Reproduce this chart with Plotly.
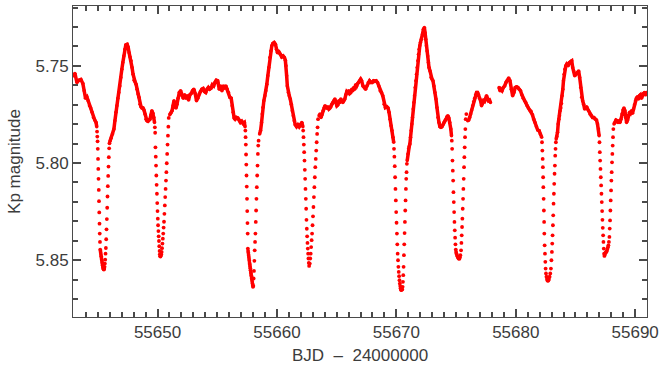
import plotly.graph_objects as go

# out-of-eclipse light curve (BJD - 2400000, Kp mag)
oot_bjd = [
    55642.971, 55643.082, 55643.247, 55643.414, 55643.580, 55643.746, 55643.856, 55643.967, 55644.077, 55644.188,
    55644.299, 55644.409, 55644.520, 55644.631, 55644.741, 55644.852, 55644.907,
    55646.014, 55646.124, 55646.235, 55646.346, 55646.429, 55646.512, 55646.595, 55646.678, 55646.761, 55646.844,
    55646.927, 55647.010, 55647.093, 55647.176, 55647.259, 55647.342, 55647.452, 55647.535, 55647.618, 55647.701,
    55647.784, 55647.867, 55647.950, 55648.033, 55648.116, 55648.199, 55648.282, 55648.365, 55648.448, 55648.531,
    55648.614, 55648.697, 55648.780, 55648.863, 55648.946, 55649.029, 55649.112, 55649.195, 55649.278, 55649.361,
    55649.444, 55649.527, 55649.610, 55649.693, 55649.748,
    55651.021, 55651.104, 55651.215, 55651.298, 55651.380, 55651.463, 55651.546, 55651.629, 55651.712, 55651.823,
    55651.934, 55652.044, 55652.155, 55652.266, 55652.376, 55652.487, 55652.598, 55652.708, 55652.819, 55652.930,
    55653.040, 55653.151, 55653.262, 55653.372, 55653.483, 55653.594, 55653.704, 55653.815, 55653.926, 55654.036,
    55654.147, 55654.257, 55654.368, 55654.479, 55654.589, 55654.700, 55654.811, 55654.921, 55655.032, 55655.059,
    55655.170, 55655.281, 55655.391, 55655.502, 55655.613, 55655.723, 55655.834, 55655.944, 55656.055, 55656.166,
    55656.249, 55656.332, 55656.415, 55656.498, 55656.608, 55656.719, 55656.830, 55656.940, 55657.051, 55657.162,
    55657.272, 55657.328,
    55658.545, 55658.628, 55658.711, 55658.766, 55658.821, 55658.904, 55658.987, 55659.070, 55659.153, 55659.236,
    55659.319, 55659.402, 55659.485, 55659.568, 55659.651, 55659.762, 55659.873, 55659.956, 55660.039, 55660.122,
    55660.205, 55660.288, 55660.398, 55660.509, 55660.620, 55660.703, 55660.758, 55660.813, 55660.868, 55660.951,
    55661.034, 55661.117, 55661.200, 55661.283, 55661.366, 55661.449, 55661.532, 55661.643, 55661.754, 55661.864,
    55661.975, 55662.086, 55662.169,
    55663.524, 55663.607, 55663.690, 55663.773, 55663.856, 55663.939, 55664.022, 55664.105, 55664.188, 55664.271,
    55664.354, 55664.437, 55664.520, 55664.603, 55664.686, 55664.769, 55664.852, 55664.935, 55665.018, 55665.101,
    55665.184, 55665.267, 55665.350, 55665.433, 55665.516, 55665.599, 55665.682, 55665.765, 55665.848, 55665.931,
    55666.014, 55666.097, 55666.180, 55666.263, 55666.346, 55666.429, 55666.512, 55666.595, 55666.678, 55666.761,
    55666.844, 55666.927, 55667.010, 55667.092, 55667.203, 55667.314, 55667.424, 55667.535, 55667.646, 55667.756,
    55667.867, 55667.978, 55668.088, 55668.199, 55668.309, 55668.420, 55668.531, 55668.641, 55668.752, 55668.863,
    55668.973, 55669.084, 55669.195, 55669.305, 55669.388, 55669.471, 55669.554, 55669.637, 55669.720, 55669.776,
    55670.910, 55670.965, 55671.020, 55671.076, 55671.131, 55671.186, 55671.242, 55671.297, 55671.352, 55671.408,
    55671.463, 55671.518, 55671.574, 55671.629, 55671.684, 55671.740, 55671.795, 55671.850, 55671.906, 55671.961,
    55672.016, 55672.099, 55672.182, 55672.265, 55672.348, 55672.404, 55672.459, 55672.514, 55672.570, 55672.625,
    55672.680, 55672.736, 55672.819, 55672.902, 55672.984, 55673.067, 55673.150, 55673.233, 55673.316, 55673.399,
    55673.482, 55673.565, 55673.648, 55673.731, 55673.814, 55673.897, 55673.980, 55674.063, 55674.146, 55674.229,
    55674.312, 55674.395, 55674.478, 55674.561, 55674.616,
    55675.972, 55676.055, 55676.138, 55676.221, 55676.304, 55676.387, 55676.470, 55676.553, 55676.636, 55676.719,
    55676.802, 55676.885, 55676.968, 55677.051, 55677.134, 55677.217, 55677.300, 55677.383, 55677.466, 55677.549,
    55677.632, 55677.715, 55677.798, 55677.881,
    55678.600, 55678.683, 55678.739, 55678.850, 55678.960, 55679.071, 55679.182, 55679.292, 55679.403, 55679.514,
    55679.624, 55679.735, 55679.846, 55679.956, 55680.067, 55680.177, 55680.288, 55680.399, 55680.509, 55680.620,
    55680.731, 55680.841, 55680.952, 55681.063, 55681.173, 55681.284, 55681.395, 55681.505, 55681.616, 55681.727,
    55681.837, 55681.948, 55682.058, 55682.169,
    55683.386, 55683.442, 55683.497, 55683.552, 55683.608, 55683.663, 55683.718, 55683.774, 55683.829, 55683.884,
    55683.940, 55683.995, 55684.050, 55684.106, 55684.189, 55684.272, 55684.382, 55684.493, 55684.604, 55684.687,
    55684.770, 55684.853, 55684.936, 55685.046, 55685.157, 55685.268, 55685.351, 55685.434, 55685.517, 55685.600,
    55685.683, 55685.766, 55685.849, 55685.931, 55686.014, 55686.097, 55686.208, 55686.319, 55686.429, 55686.540,
    55686.651, 55686.761, 55686.844, 55686.927, 55686.983,
    55688.227, 55688.310, 55688.393, 55688.476, 55688.559, 55688.642, 55688.725, 55688.808, 55688.891, 55688.974,
    55689.057, 55689.140, 55689.196, 55689.279, 55689.362, 55689.445, 55689.528, 55689.610, 55689.693, 55689.776,
    55689.859, 55689.942, 55690.025, 55690.108, 55690.191, 55690.274, 55690.357, 55690.440, 55690.523, 55690.606,
    55690.689, 55690.772, 55690.855, 55690.938,
]
oot_kp = [
    5.7551, 5.7539, 5.7585, 5.7574, 5.7570, 5.7591, 5.7628, 5.7666, 5.7659, 5.7679,
    5.7705, 5.7717, 5.7739, 5.7765, 5.7779, 5.7791, 5.7813,
    5.7888, 5.7871, 5.7850, 5.7825, 5.7782, 5.7739, 5.7705, 5.7666, 5.7637, 5.7603,
    5.7560, 5.7517, 5.7483, 5.7449, 5.7415, 5.7392, 5.7389, 5.7403, 5.7432, 5.7454,
    5.7474, 5.7509, 5.7543, 5.7574, 5.7582, 5.7594, 5.7620, 5.7645, 5.7662, 5.7697,
    5.7710, 5.7717, 5.7717, 5.7727, 5.7748, 5.7774, 5.7782, 5.7785, 5.7779, 5.7775,
    5.7753, 5.7731, 5.7744, 5.7765, 5.7791,
    5.7751, 5.7744, 5.7731, 5.7705, 5.7679, 5.7710, 5.7717, 5.7697, 5.7666, 5.7637,
    5.7628, 5.7654, 5.7666, 5.7649, 5.7666, 5.7654, 5.7676, 5.7649, 5.7642, 5.7628,
    5.7620, 5.7642, 5.7679, 5.7666, 5.7645, 5.7632, 5.7620, 5.7616, 5.7632, 5.7637,
    5.7620, 5.7611, 5.7620, 5.7615, 5.7597, 5.7603, 5.7585, 5.7574, 5.7577, 5.7585,
    5.7620, 5.7603, 5.7628, 5.7603, 5.7611, 5.7603, 5.7620, 5.7637, 5.7662, 5.7666,
    5.7705, 5.7739, 5.7768, 5.7774, 5.7765, 5.7768, 5.7779, 5.7791, 5.7785, 5.7796,
    5.7791, 5.7813,
    5.7850, 5.7833, 5.7791, 5.7748, 5.7714, 5.7679, 5.7654, 5.7628, 5.7594, 5.7551,
    5.7509, 5.7457, 5.7423, 5.7397, 5.7385, 5.7380, 5.7389, 5.7415, 5.7432, 5.7423,
    5.7432, 5.7440, 5.7454, 5.7449, 5.7457, 5.7471, 5.7500, 5.7551, 5.7603, 5.7637,
    5.7654, 5.7671, 5.7697, 5.7731, 5.7756, 5.7782, 5.7803, 5.7813, 5.7803, 5.7813,
    5.7803, 5.7791, 5.7813,
    5.7756, 5.7748, 5.7765, 5.7751, 5.7731, 5.7717, 5.7705, 5.7714, 5.7717, 5.7710,
    5.7722, 5.7717, 5.7710, 5.7697, 5.7688, 5.7679, 5.7671, 5.7688, 5.7705, 5.7700,
    5.7679, 5.7688, 5.7671, 5.7679, 5.7688, 5.7679, 5.7671, 5.7649, 5.7632, 5.7637,
    5.7628, 5.7642, 5.7637, 5.7620, 5.7628, 5.7611, 5.7620, 5.7597, 5.7603, 5.7591,
    5.7585, 5.7577, 5.7568, 5.7577, 5.7603, 5.7611, 5.7620, 5.7603, 5.7585, 5.7577,
    5.7585, 5.7585, 5.7577, 5.7580, 5.7577, 5.7585, 5.7603, 5.7628, 5.7637, 5.7654,
    5.7697, 5.7714, 5.7710, 5.7717, 5.7739, 5.7774, 5.7808, 5.7833, 5.7867, 5.7893,
    5.7987, 5.7953, 5.7927, 5.7915, 5.7902, 5.7867, 5.7833, 5.7799, 5.7765, 5.7722,
    5.7688, 5.7654, 5.7611, 5.7577, 5.7543, 5.7509, 5.7474, 5.7440, 5.7415, 5.7397,
    5.7380, 5.7363, 5.7338, 5.7312, 5.7303, 5.7329, 5.7363, 5.7397, 5.7423, 5.7449,
    5.7483, 5.7509, 5.7526, 5.7560, 5.7568, 5.7577, 5.7603, 5.7637, 5.7671, 5.7714,
    5.7765, 5.7791, 5.7813, 5.7816, 5.7813, 5.7803, 5.7791, 5.7782, 5.7774, 5.7762,
    5.7756, 5.7768, 5.7791, 5.7825, 5.7859,
    5.7782, 5.7779, 5.7765, 5.7748, 5.7727, 5.7705, 5.7685, 5.7666, 5.7649, 5.7637,
    5.7637, 5.7649, 5.7666, 5.7679, 5.7705, 5.7693, 5.7679, 5.7683, 5.7671, 5.7654,
    5.7666, 5.7679, 5.7676, 5.7688,
    5.7611, 5.7628, 5.7620, 5.7628, 5.7611, 5.7603, 5.7585, 5.7577, 5.7563, 5.7577,
    5.7620, 5.7654, 5.7637, 5.7611, 5.7608, 5.7611, 5.7620, 5.7628, 5.7649, 5.7666,
    5.7679, 5.7688, 5.7705, 5.7717, 5.7727, 5.7734, 5.7751, 5.7774, 5.7791, 5.7813,
    5.7830, 5.7833, 5.7850, 5.7867,
    5.7876, 5.7864, 5.7842, 5.7799, 5.7774, 5.7756, 5.7731, 5.7717, 5.7693, 5.7654,
    5.7620, 5.7577, 5.7543, 5.7517, 5.7500, 5.7491, 5.7500, 5.7483, 5.7478, 5.7474,
    5.7509, 5.7526, 5.7551, 5.7543, 5.7534, 5.7526, 5.7560, 5.7611, 5.7662, 5.7679,
    5.7697, 5.7722, 5.7717, 5.7710, 5.7722, 5.7731, 5.7748, 5.7756, 5.7765, 5.7765,
    5.7774, 5.7779, 5.7799, 5.7825, 5.7859,
    5.7799, 5.7791, 5.7779, 5.7782, 5.7791, 5.7782, 5.7791, 5.7774, 5.7748, 5.7727,
    5.7717, 5.7731, 5.7765, 5.7791, 5.7779, 5.7756, 5.7739, 5.7744, 5.7731, 5.7744,
    5.7722, 5.7700, 5.7679, 5.7666, 5.7659, 5.7671, 5.7654, 5.7649, 5.7666, 5.7654,
    5.7642, 5.7637, 5.7649, 5.7637,
]

# points inside the eclipses (sparse in time vs. the steep branches)
ecl_bjd = [
    # eclipse 1
    55644.935, 55644.955, 55644.976, 55644.996, 55645.017, 55645.037, 55645.057, 55645.078, 55645.098, 55645.119,
    55645.139, 55645.159, 55645.180, 55645.200, 55645.221, 55645.241, 55645.261, 55645.282, 55645.302, 55645.323,
    55645.343, 55645.363, 55645.384, 55645.404, 55645.425, 55645.445, 55645.465, 55645.486, 55645.506,
    55645.535, 55645.563, 55645.590, 55645.618, 55645.645, 55645.673, 55645.700, 55645.728, 55645.755, 55645.783,
    55645.810, 55645.838, 55645.865, 55645.893, 55645.920, 55645.948, 55645.975,
    # eclipse 2
    55649.776, 55649.800, 55649.825, 55649.850, 55649.874, 55649.899, 55649.923, 55649.948, 55649.973, 55649.997,
    55650.022, 55650.046, 55650.071, 55650.096, 55650.120, 55650.145, 55650.170, 55650.194, 55650.219,
    55650.245, 55650.278, 55650.311, 55650.344, 55650.377, 55650.410, 55650.443, 55650.476, 55650.509, 55650.542,
    55650.575, 55650.608, 55650.641, 55650.674, 55650.707, 55650.740, 55650.773, 55650.806, 55650.839, 55650.872,
    55650.905, 55650.938,
    # eclipse 3
    55657.355, 55657.374, 55657.394, 55657.413, 55657.433, 55657.452, 55657.471, 55657.491, 55657.510, 55657.530,
    55657.549,
    55657.563, 55657.583, 55657.604, 55657.624, 55657.645, 55657.665, 55657.685, 55657.706, 55657.726, 55657.747,
    55657.767, 55657.787, 55657.808, 55657.828, 55657.849, 55657.869, 55657.889, 55657.910, 55657.930, 55657.951,
    55657.971, 55657.992,
    55658.019, 55658.049, 55658.078, 55658.108, 55658.137, 55658.167, 55658.196, 55658.226, 55658.255, 55658.285,
    55658.314, 55658.344, 55658.373, 55658.403, 55658.432, 55658.462,
    # eclipse 4
    55662.196, 55662.224, 55662.251, 55662.279, 55662.307, 55662.334, 55662.362, 55662.390, 55662.417, 55662.445,
    55662.473, 55662.500, 55662.528, 55662.556, 55662.583, 55662.611, 55662.639, 55662.666, 55662.694,
    55662.750, 55662.788, 55662.827, 55662.865, 55662.904, 55662.942, 55662.980, 55663.019, 55663.057, 55663.096,
    55663.134, 55663.172, 55663.211, 55663.249, 55663.288, 55663.326, 55663.364, 55663.403, 55663.441,
    # eclipse 5
    55669.803, 55669.834, 55669.864, 55669.895, 55669.925, 55669.956, 55669.986, 55670.017, 55670.047, 55670.078,
    55670.108, 55670.139, 55670.169, 55670.200, 55670.230, 55670.261, 55670.291, 55670.322, 55670.352, 55670.383,
    55670.412,
    55670.495, 55670.523, 55670.550, 55670.578, 55670.606, 55670.633, 55670.661, 55670.688, 55670.716, 55670.744,
    55670.771, 55670.799, 55670.826, 55670.854, 55670.882,
    # eclipse 6
    55674.644, 55674.672, 55674.699, 55674.727, 55674.755, 55674.782, 55674.810, 55674.838, 55674.865, 55674.893,
    55674.921, 55674.948, 55674.976, 55675.004, 55675.031, 55675.073, 55675.114, 55675.156, 55675.197, 55675.239,
    55675.281, 55675.322, 55675.363, 55675.419, 55675.447, 55675.474, 55675.502, 55675.529, 55675.557, 55675.585,
    55675.612, 55675.640, 55675.668, 55675.695, 55675.723, 55675.751, 55675.778, 55675.806, 55675.861,
    # eclipse 7
    55682.197, 55682.225, 55682.252, 55682.272, 55682.291, 55682.308, 55682.335, 55682.355, 55682.374, 55682.391,
    55682.418, 55682.446, 55682.474, 55682.501, 55682.529, 55682.570, 55682.612, 55682.653, 55682.695, 55682.736,
    55682.778, 55682.833, 55682.888, 55682.944, 55682.985, 55683.027, 55683.054, 55683.082, 55683.110, 55683.137,
    55683.165, 55683.193, 55683.220, 55683.248, 55683.276, 55683.303, 55683.331, 55683.359,
    # eclipse 8
    55687.010, 55687.038, 55687.065, 55687.093, 55687.121, 55687.149, 55687.176, 55687.204, 55687.232, 55687.259,
    55687.287, 55687.315, 55687.342, 55687.370, 55687.397, 55687.425, 55687.467, 55687.508, 55687.550, 55687.591,
    55687.633, 55687.674, 55687.716, 55687.757, 55687.799, 55687.840, 55687.868, 55687.896, 55687.923, 55687.951,
    55687.979, 55688.006, 55688.034, 55688.061, 55688.089, 55688.117, 55688.144, 55688.172,
]
ecl_kp = [
    # eclipse 1
    5.7838, 5.7864, 5.7888, 5.7927, 5.7979, 5.8030, 5.8081, 5.8138, 5.8196, 5.8254,
    5.8312, 5.8363, 5.8406, 5.8445, 5.8452, 5.8462, 5.8471, 5.8480, 5.8488, 5.8497,
    5.8503, 5.8512, 5.8519, 5.8526, 5.8533, 5.8538, 5.8543, 5.8546, 5.8548,
    5.8544, 5.8534, 5.8517, 5.8497, 5.8466, 5.8437, 5.8392, 5.8341, 5.8288, 5.8230,
    5.8172, 5.8119, 5.8066, 5.8018, 5.7970, 5.7924, 5.7898,
    # eclipse 2
    5.7816, 5.7844, 5.7919, 5.7967, 5.8013, 5.8064, 5.8112, 5.8158, 5.8206, 5.8247,
    5.8286, 5.8320, 5.8350, 5.8377, 5.8401, 5.8428, 5.8452, 5.8469, 5.8479,
    5.8481, 5.8476, 5.8469, 5.8457, 5.8438, 5.8414, 5.8389, 5.8363, 5.8332, 5.8302,
    5.8261, 5.8218, 5.8175, 5.8133, 5.8090, 5.8047, 5.8001, 5.7953, 5.7905, 5.7859,
    5.7813, 5.7768,
    # eclipse 3
    5.7833, 5.7867, 5.7905, 5.7956, 5.8008, 5.8064, 5.8121, 5.8184, 5.8247, 5.8309,
    5.8363,
    5.8440, 5.8452, 5.8462, 5.8473, 5.8483, 5.8493, 5.8503, 5.8514, 5.8522, 5.8532,
    5.8541, 5.8551, 5.8560, 5.8568, 5.8577, 5.8585, 5.8594, 5.8602, 5.8611, 5.8620,
    5.8628, 5.8637,
    5.8632, 5.8594, 5.8555, 5.8503, 5.8449, 5.8406, 5.8363, 5.8303, 5.8244, 5.8184,
    5.8124, 5.8064, 5.8013, 5.7953, 5.7910, 5.7885,
    # eclipse 4
    5.7833, 5.7867, 5.7905, 5.7944, 5.7987, 5.8035, 5.8081, 5.8133, 5.8184, 5.8235,
    5.8292, 5.8338, 5.8377, 5.8411, 5.8440, 5.8466, 5.8491, 5.8514, 5.8529,
    5.8517, 5.8491, 5.8466, 5.8432, 5.8397, 5.8363, 5.8320, 5.8274, 5.8226, 5.8175,
    5.8124, 5.8073, 5.8021, 5.7979, 5.7936, 5.7893, 5.7850, 5.7816, 5.7774,
    # eclipse 5
    5.7927, 5.7967, 5.8016, 5.8073, 5.8133, 5.8192, 5.8252, 5.8307, 5.8363, 5.8418,
    5.8466, 5.8500, 5.8534, 5.8560, 5.8582, 5.8603, 5.8620, 5.8633, 5.8644, 5.8650,
    5.8654,
    5.8650, 5.8637, 5.8611, 5.8577, 5.8534, 5.8474, 5.8418, 5.8360, 5.8303, 5.8244,
    5.8192, 5.8133, 5.8081, 5.8047, 5.8004,
    # eclipse 6
    5.7885, 5.7927, 5.7987, 5.8039, 5.8090, 5.8150, 5.8201, 5.8252, 5.8303, 5.8346,
    5.8384, 5.8418, 5.8445, 5.8457, 5.8466, 5.8473, 5.8480, 5.8485, 5.8490, 5.8492,
    5.8492, 5.8485, 5.8474, 5.8449, 5.8411, 5.8372, 5.8329, 5.8286, 5.8235, 5.8184,
    5.8133, 5.8081, 5.8021, 5.7970, 5.7919, 5.7867, 5.7825, 5.7774, 5.7748,
    # eclipse 7
    5.7893, 5.7936, 5.7979, 5.8021, 5.8073, 5.8124, 5.8184, 5.8244, 5.8303, 5.8363,
    5.8423, 5.8466, 5.8508, 5.8543, 5.8568, 5.8585, 5.8597, 5.8604, 5.8606, 5.8603,
    5.8596, 5.8585, 5.8568, 5.8543, 5.8500, 5.8457, 5.8414, 5.8372, 5.8320, 5.8269,
    5.8209, 5.8158, 5.8107, 5.8055, 5.8013, 5.7962, 5.7927, 5.7893,
    # eclipse 8
    5.7893, 5.7944, 5.7987, 5.8030, 5.8073, 5.8115, 5.8158, 5.8201, 5.8247, 5.8292,
    5.8333, 5.8372, 5.8406, 5.8440, 5.8466, 5.8478, 5.8471, 5.8462, 5.8459, 5.8456,
    5.8451, 5.8442, 5.8433, 5.8423, 5.8406, 5.8380, 5.8337, 5.8295, 5.8244, 5.8192,
    5.8141, 5.8090, 5.8047, 5.7996, 5.7953, 5.7910, 5.7867, 5.7825,
]

# axis ticks and labels
x_tickvals = [55650, 55660, 55670, 55680, 55690]
x_ticktext = ["55650", "55660", "55670", "55680", "55690"]
y_tickvals = [5.75, 5.80, 5.85]
y_ticktext = ["5.75", "5.80", "5.85"]

x_range = [55642.92, 55690.99]
y_range = [5.8792, 5.7192]
red = "#ff0000"
axis_col = "#4a4a4a"
txt_col = "#3c3c3c"
txt_font = "Liberation Sans, Arial, sans-serif"

# break the line wherever there is a gap (eclipses / missing data)
line_x, line_y = [], []
for i, (t, m) in enumerate(zip(oot_bjd, oot_kp)):
    if i > 0 and t - oot_bjd[i - 1] > 0.3:
        line_x.append(None)
        line_y.append(None)
    line_x.append(t)
    line_y.append(m)

fig = go.Figure()
fig.add_trace(go.Scatter(x=line_x, y=line_y, mode="lines",
                         line=dict(color=red, width=3.5), hoverinfo="skip"))
fig.add_trace(go.Scatter(x=oot_bjd, y=oot_kp, mode="markers",
                         marker=dict(color=red, size=3.5)))
fig.add_trace(go.Scatter(x=ecl_bjd, y=ecl_kp, mode="markers",
                         marker=dict(color=red, size=3.8)))

fig.update_layout(
    width=664, height=368,
    margin=dict(l=73, r=12, t=5, b=51),
    paper_bgcolor="white", plot_bgcolor="white",
    showlegend=False,
    xaxis=dict(
        range=x_range, tickmode="array", tickvals=x_tickvals, ticktext=x_ticktext,
        ticks="inside", ticklen=8, tickwidth=2, tickcolor=axis_col,
        minor=dict(ticks="inside", ticklen=5, dtick=1, tick0=55650, tickcolor=axis_col),
        tickfont=dict(family=txt_font, size=17, color=txt_col),
        showline=True, linecolor=axis_col, mirror="ticks",
    ),
    yaxis=dict(
        range=y_range, tickmode="array", tickvals=y_tickvals, ticktext=y_ticktext,
        ticks="inside", ticklen=8, tickwidth=2, tickcolor=axis_col,
        minor=dict(ticks="inside", ticklen=5, dtick=0.01, tick0=5.75, tickcolor=axis_col),
        tickfont=dict(family=txt_font, size=17, color=txt_col),
        showline=True, linecolor=axis_col, mirror="ticks",
    ),
    annotations=[
        dict(text="BJD\u00a0\u00a0\u2013\u00a0\u00a024000000", xref="paper", yref="paper",
             x=0.5, y=-0.125, xanchor="center", yanchor="middle", showarrow=False,
             font=dict(family=txt_font, size=17, color=txt_col)),
        dict(text="Kp magnitude", xref="paper", yref="paper", textangle=-90,
             x=-0.102, y=0.5, xanchor="center", yanchor="middle", showarrow=False,
             font=dict(family=txt_font, size=17, color=txt_col)),
    ],
)

# drop the browser's default page margin so the figure sits at (0, 0)
fig.write_html("out.html", config={"displayModeBar": False},
               post_script="document.body.style.margin='0';")
